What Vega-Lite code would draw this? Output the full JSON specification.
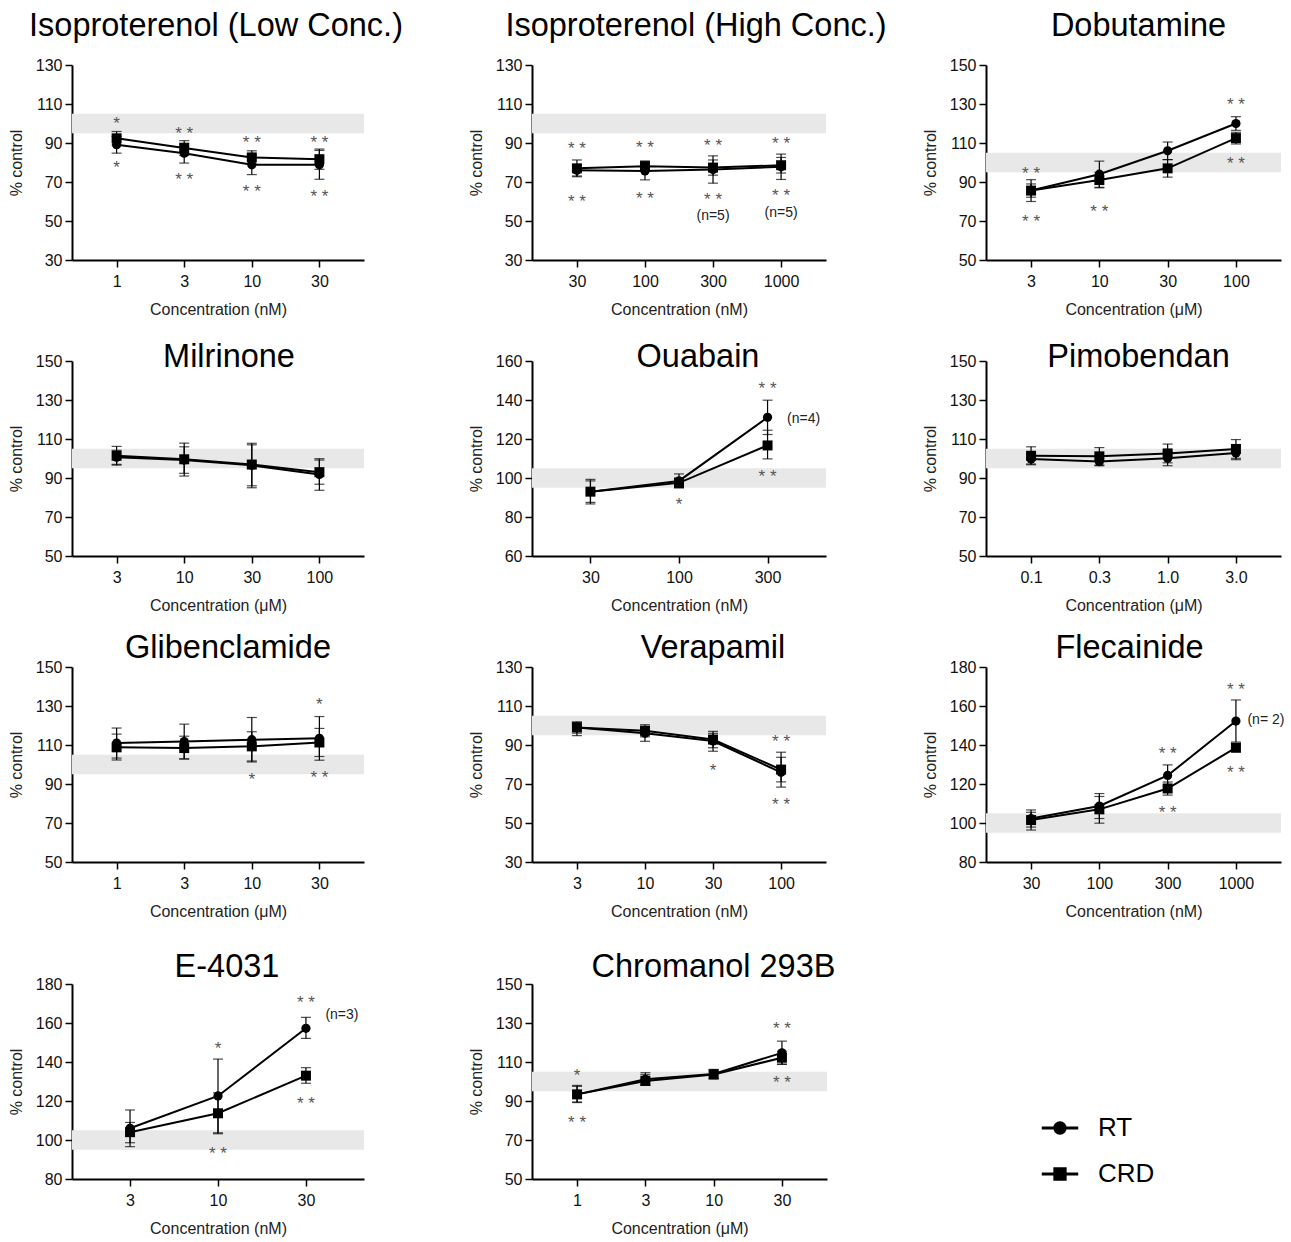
{
"$schema": "https://vega.github.io/schema/vega-lite/v6.json",
"padding": {"left": 8, "top": 9, "right": 5, "bottom": 5},
"config": {
  "font": "Liberation Sans",
  "view": {"stroke": null},
  "axis": {"grid": false, "domainColor": "black", "domainWidth": 2, "tickColor": "black", "tickWidth": 1.5, "tickSize": 7, "labelFont": "Liberation Sans", "labelColor": "#111", "titleFont": "Liberation Sans", "titleFontWeight": "normal", "titleColor": "#222"},
  "axisY": {"labelFontSize": 16, "titleFontSize": 16, "labelPadding": 3, "titlePadding": 11, "labelOverlap": false, "tickCount": 10},
  "axisX": {"labelFontSize": 16, "titleFontSize": 16, "labelAngle": 0, "labelPadding": 6, "titlePadding": 12},
  "title": {"font": "Liberation Sans", "fontSize": 32.5, "fontWeight": "normal", "color": "black", "anchor": "middle", "frame": "group", "baseline": "alphabetic"}
},
"datasets": {
  "band": [{"lo": 95, "hi": 105}],
  "leg": [{"s": "RT"}, {"s": "CRD"}],
  "p1": [
    {"c": 1, "s": "RT", "m": 89.1, "lo": 84.8, "hi": 93.4}, {"c": 1, "s": "CRD", "m": 92.4, "lo": 88.9, "hi": 95.9},
    {"c": 3, "s": "RT", "m": 84.8, "lo": 79.7, "hi": 89.9}, {"c": 3, "s": "CRD", "m": 87.4, "lo": 83.6, "hi": 91.2},
    {"c": 10, "s": "RT", "m": 78.8, "lo": 73.8, "hi": 83.8}, {"c": 10, "s": "CRD", "m": 82.6, "lo": 79.2, "hi": 86.0},
    {"c": 30, "s": "RT", "m": 78.8, "lo": 71.4, "hi": 86.2}, {"c": 30, "s": "CRD", "m": 81.7, "lo": 76.5, "hi": 86.9}],
  "a1": [{"c": 1, "y": 102.4, "t": "*"}, {"c": 1, "y": 79.5, "t": "*"}, {"c": 3, "y": 97.2, "t": "* *"}, {"c": 3, "y": 73.8, "t": "* *"}, {"c": 10, "y": 92.4, "t": "* *"}, {"c": 10, "y": 67.6, "t": "* *"}, {"c": 30, "y": 92.4, "t": "* *"}, {"c": 30, "y": 64.8, "t": "* *"}],
  "p2": [
    {"c": 30, "s": "RT", "m": 76.0, "lo": 73.1, "hi": 78.9}, {"c": 30, "s": "CRD", "m": 77.0, "lo": 72.7, "hi": 81.3},
    {"c": 100, "s": "RT", "m": 75.7, "lo": 71.1, "hi": 80.3}, {"c": 100, "s": "CRD", "m": 78.1, "lo": 75.4, "hi": 80.8},
    {"c": 300, "s": "RT", "m": 76.4, "lo": 69.4, "hi": 83.4}, {"c": 300, "s": "CRD", "m": 77.4, "lo": 73.5, "hi": 81.3},
    {"c": 1000, "s": "RT", "m": 77.8, "lo": 71.3, "hi": 84.3}, {"c": 1000, "s": "CRD", "m": 78.6, "lo": 74.6, "hi": 82.6}],
  "a2": [{"c": 30, "y": 89.4, "t": "* *"}, {"c": 100, "y": 90.1, "t": "* *"}, {"c": 300, "y": 91.1, "t": "* *"}, {"c": 1000, "y": 92.0, "t": "* *"}, {"c": 30, "y": 62.5, "t": "* *"}, {"c": 100, "y": 63.8, "t": "* *"}, {"c": 300, "y": 63.4, "t": "* *"}, {"c": 1000, "y": 65.2, "t": "* *"}],
  "n2": [{"c": 300, "y": 52.8, "t": "(n=5)"}, {"c": 1000, "y": 54.2, "t": "(n=5)"}],
  "p3": [
    {"c": 3, "s": "RT", "m": 85.6, "lo": 80.0, "hi": 91.2}, {"c": 3, "s": "CRD", "m": 85.6, "lo": 82.2, "hi": 89.0},
    {"c": 10, "s": "RT", "m": 94.0, "lo": 87.3, "hi": 100.7}, {"c": 10, "s": "CRD", "m": 91.0, "lo": 87.0, "hi": 95.0},
    {"c": 30, "s": "RT", "m": 106.0, "lo": 101.5, "hi": 110.5}, {"c": 30, "s": "CRD", "m": 97.0, "lo": 92.5, "hi": 101.5},
    {"c": 100, "s": "RT", "m": 120.0, "lo": 116.5, "hi": 123.5}, {"c": 100, "s": "CRD", "m": 112.5, "lo": 109.5, "hi": 115.5}],
  "a3": [{"c": 3, "y": 96.8, "t": "* *"}, {"c": 3, "y": 71.9, "t": "* *"}, {"c": 10, "y": 77.3, "t": "* *"}, {"c": 100, "y": 132.1, "t": "* *"}, {"c": 100, "y": 101.8, "t": "* *"}],
  "p4": [
    {"c": 3, "s": "RT", "m": 100.6, "lo": 97.0, "hi": 104.2}, {"c": 3, "s": "CRD", "m": 101.4, "lo": 96.6, "hi": 106.2},
    {"c": 10, "s": "RT", "m": 99.2, "lo": 92.4, "hi": 106.0}, {"c": 10, "s": "CRD", "m": 99.6, "lo": 91.0, "hi": 107.9},
    {"c": 30, "s": "RT", "m": 96.5, "lo": 85.0, "hi": 107.0}, {"c": 30, "s": "CRD", "m": 96.9, "lo": 86.0, "hi": 107.8},
    {"c": 100, "s": "RT", "m": 91.8, "lo": 83.7, "hi": 99.9}, {"c": 100, "s": "CRD", "m": 93.0, "lo": 86.8, "hi": 99.2}],
  "p5": [
    {"c": 30, "s": "RT", "m": 93.0, "lo": 86.7, "hi": 99.3}, {"c": 30, "s": "CRD", "m": 93.0, "lo": 87.5, "hi": 98.5},
    {"c": 100, "s": "RT", "m": 98.5, "lo": 95.0, "hi": 102.1}, {"c": 100, "s": "CRD", "m": 97.5, "lo": 95.0, "hi": 100.0},
    {"c": 300, "s": "RT", "m": 131.1, "lo": 122.3, "hi": 139.9}, {"c": 300, "s": "CRD", "m": 116.7, "lo": 109.8, "hi": 124.5}],
  "a5": [{"c": 300, "y": 148.3, "t": "* *"}, {"c": 300, "y": 103.3, "t": "* *"}, {"c": 100, "y": 88.7, "t": "*"}],
  "n5": [{"c": 300, "y": 130.5, "t": "(n=4)"}],
  "p6": [
    {"c": 0.1, "s": "RT", "m": 99.7, "lo": 97.2, "hi": 102.5}, {"c": 0.1, "s": "CRD", "m": 101.4, "lo": 96.8, "hi": 106.0},
    {"c": 0.3, "s": "RT", "m": 98.4, "lo": 96.3, "hi": 101.0}, {"c": 0.3, "s": "CRD", "m": 101.1, "lo": 96.6, "hi": 105.6},
    {"c": 1, "s": "RT", "m": 100.1, "lo": 96.3, "hi": 103.5}, {"c": 1, "s": "CRD", "m": 102.6, "lo": 97.8, "hi": 107.4},
    {"c": 3, "s": "RT", "m": 102.8, "lo": 99.4, "hi": 106.0}, {"c": 3, "s": "CRD", "m": 104.9, "lo": 100.1, "hi": 109.7}],
  "p7": [
    {"c": 1, "s": "RT", "m": 111.0, "lo": 103.3, "hi": 118.7}, {"c": 1, "s": "CRD", "m": 108.8, "lo": 102.3, "hi": 115.6},
    {"c": 3, "s": "RT", "m": 111.8, "lo": 102.9, "hi": 120.7}, {"c": 3, "s": "CRD", "m": 108.4, "lo": 102.8, "hi": 114.5},
    {"c": 10, "s": "RT", "m": 112.7, "lo": 101.3, "hi": 124.1}, {"c": 10, "s": "CRD", "m": 109.3, "lo": 101.8, "hi": 116.8},
    {"c": 30, "s": "RT", "m": 113.4, "lo": 102.2, "hi": 124.6}, {"c": 30, "s": "CRD", "m": 111.3, "lo": 104.1, "hi": 118.5}],
  "a7": [{"c": 30, "y": 133.0, "t": "*"}, {"c": 10, "y": 94.8, "t": "*"}, {"c": 30, "y": 95.7, "t": "* *"}],
  "p8": [
    {"c": 3, "s": "RT", "m": 99.0, "lo": 96.1, "hi": 101.9}, {"c": 3, "s": "CRD", "m": 99.0, "lo": 94.8, "hi": 101.5},
    {"c": 10, "s": "RT", "m": 96.0, "lo": 91.9, "hi": 99.5}, {"c": 10, "s": "CRD", "m": 97.3, "lo": 94.2, "hi": 100.4},
    {"c": 30, "s": "RT", "m": 92.0, "lo": 86.8, "hi": 96.0}, {"c": 30, "s": "CRD", "m": 92.8, "lo": 88.6, "hi": 97.0},
    {"c": 100, "s": "RT", "m": 76.0, "lo": 68.4, "hi": 86.3}, {"c": 100, "s": "CRD", "m": 77.4, "lo": 71.1, "hi": 83.7}],
  "a8": [{"c": 30, "y": 79.2, "t": "*"}, {"c": 100, "y": 94.0, "t": "* *"}, {"c": 100, "y": 61.6, "t": "* *"}],
  "p9": [
    {"c": 30, "s": "RT", "m": 102.3, "lo": 97.9, "hi": 106.7}, {"c": 30, "s": "CRD", "m": 101.5, "lo": 96.4, "hi": 105.5},
    {"c": 100, "s": "RT", "m": 108.7, "lo": 102.3, "hi": 115.1}, {"c": 100, "s": "CRD", "m": 107.0, "lo": 99.9, "hi": 113.6},
    {"c": 300, "s": "RT", "m": 124.4, "lo": 119.0, "hi": 129.8}, {"c": 300, "s": "CRD", "m": 117.7, "lo": 114.3, "hi": 121.0},
    {"c": 1000, "s": "RT", "m": 152.3, "lo": 141.5, "hi": 163.1}, {"c": 1000, "s": "CRD", "m": 138.6, "lo": 136.6, "hi": 140.6}],
  "a9": [{"c": 300, "y": 137.8, "t": "* *"}, {"c": 300, "y": 107.5, "t": "* *"}, {"c": 1000, "y": 170.9, "t": "* *"}, {"c": 1000, "y": 128.1, "t": "* *"}],
  "n9": [{"c": 1000, "y": 152.6, "t": "(n= 2)"}],
  "p10": [
    {"c": 3, "s": "RT", "m": 106.0, "lo": 96.6, "hi": 115.4}, {"c": 3, "s": "CRD", "m": 104.0, "lo": 98.6, "hi": 109.0},
    {"c": 10, "s": "RT", "m": 122.6, "lo": 103.7, "hi": 141.5}, {"c": 10, "s": "CRD", "m": 113.7, "lo": 103.2, "hi": 124.2},
    {"c": 30, "s": "RT", "m": 157.3, "lo": 152.1, "hi": 162.9}, {"c": 30, "s": "CRD", "m": 133.0, "lo": 129.1, "hi": 137.1}],
  "a10": [{"c": 10, "y": 149.1, "t": "*"}, {"c": 10, "y": 95.4, "t": "* *"}, {"c": 30, "y": 172.6, "t": "* *"}, {"c": 30, "y": 120.9, "t": "* *"}],
  "n10": [{"c": 30, "y": 164.1, "t": "(n=3)"}],
  "p11": [
    {"c": 1, "s": "RT", "m": 93.4, "lo": 89.2, "hi": 98.0}, {"c": 1, "s": "CRD", "m": 93.4, "lo": 89.5, "hi": 97.5},
    {"c": 3, "s": "RT", "m": 101.1, "lo": 98.2, "hi": 104.5}, {"c": 3, "s": "CRD", "m": 100.3, "lo": 98.2, "hi": 103.5},
    {"c": 10, "s": "RT", "m": 103.9, "lo": 101.4, "hi": 106.2}, {"c": 10, "s": "CRD", "m": 103.6, "lo": 101.6, "hi": 105.8},
    {"c": 30, "s": "RT", "m": 114.7, "lo": 108.8, "hi": 120.7}, {"c": 30, "s": "CRD", "m": 112.2, "lo": 108.9, "hi": 115.5}],
  "a11": [{"c": 1, "y": 105.4, "t": "*"}, {"c": 1, "y": 81.2, "t": "* *"}, {"c": 30, "y": 129.6, "t": "* *"}, {"c": 30, "y": 102.0, "t": "* *"}]
},
"bounds": "flush",
"spacing": 296,
"vconcat": [
 {"bounds": "flush", "spacing": 168, "hconcat": [
  {"width": 292, "height": 195, "title": {"text": "Isoproterenol (Low Conc.)", "dx": -2, "offset": 15}, "data": {"name": "p1"},
   "layer": [
    {"data": {"name": "band"}, "mark": {"type": "rect", "color": "#e8e8e8"}, "encoding": {"y": {"field": "lo", "type": "quantitative", "scale": {"domain": [30, 130], "nice": false, "zero": false}, "axis": {"values": [30, 50, 70, 90, 110, 130], "tickCount": 10, "labelOverlap": false}, "title": "% control"}, "y2": {"field": "hi"}}},
    {"encoding": {"x": {"field": "c", "type": "ordinal", "scale": {"type": "point", "padding": 0.66}, "title": "Concentration (nM)"}},
     "layer": [
      {"mark": {"type": "rule", "color": "black", "strokeWidth": 1.2}, "encoding": {"y": {"field": "lo", "type": "quantitative", "scale": {"domain": [30, 130], "nice": false, "zero": false}, "title": "% control"}, "y2": {"field": "hi"}}},
      {"mark": {"type": "tick", "color": "black", "thickness": 1.2, "size": 10}, "encoding": {"y": {"field": "lo", "type": "quantitative", "scale": {"domain": [30, 130], "nice": false, "zero": false}, "title": "% control"}}},
      {"mark": {"type": "tick", "color": "black", "thickness": 1.2, "size": 10}, "encoding": {"y": {"field": "hi", "type": "quantitative", "scale": {"domain": [30, 130], "nice": false, "zero": false}, "title": "% control"}}},
      {"mark": {"type": "line", "color": "black", "strokeWidth": 2}, "encoding": {"y": {"field": "m", "type": "quantitative", "scale": {"domain": [30, 130], "nice": false, "zero": false}, "title": "% control"}, "detail": {"field": "s", "type": "nominal"}}},
      {"transform": [{"filter": "datum.s === 'RT'"}], "mark": {"type": "point", "shape": "circle", "filled": true, "color": "black", "opacity": 1, "size": 85}, "encoding": {"y": {"field": "m", "type": "quantitative", "scale": {"domain": [30, 130], "nice": false, "zero": false}, "title": "% control"}}},
      {"transform": [{"filter": "datum.s === 'CRD'"}], "mark": {"type": "point", "shape": "square", "filled": true, "color": "black", "opacity": 1, "size": 100}, "encoding": {"y": {"field": "m", "type": "quantitative", "scale": {"domain": [30, 130], "nice": false, "zero": false}, "title": "% control"}}},
      {"data": {"name": "a1"}, "mark": {"type": "text", "color": "#555", "fontSize": 17, "baseline": "middle", "dy": 5}, "encoding": {"y": {"field": "y", "type": "quantitative", "scale": {"domain": [30, 130], "nice": false, "zero": false}, "title": "% control"}, "text": {"field": "t"}}}
     ]}
   ]},
  {"bounds": "flush", "spacing": 160, "hconcat": [
   {"width": 294, "height": 195, "title": {"text": "Isoproterenol (High Conc.)", "dx": 17, "offset": 15}, "data": {"name": "p2"},
    "layer": [
     {"data": {"name": "band"}, "mark": {"type": "rect", "color": "#e8e8e8"}, "encoding": {"y": {"field": "lo", "type": "quantitative", "scale": {"domain": [30, 130], "nice": false, "zero": false}, "axis": {"values": [30, 50, 70, 90, 110, 130], "tickCount": 10, "labelOverlap": false}, "title": "% control"}, "y2": {"field": "hi"}}},
     {"encoding": {"x": {"field": "c", "type": "ordinal", "scale": {"type": "point", "padding": 0.66}, "title": "Concentration (nM)"}},
      "layer": [
       {"mark": {"type": "rule", "color": "black", "strokeWidth": 1.2}, "encoding": {"y": {"field": "lo", "type": "quantitative", "scale": {"domain": [30, 130], "nice": false, "zero": false}, "title": "% control"}, "y2": {"field": "hi"}}},
       {"mark": {"type": "tick", "color": "black", "thickness": 1.2, "size": 10}, "encoding": {"y": {"field": "lo", "type": "quantitative", "scale": {"domain": [30, 130], "nice": false, "zero": false}, "title": "% control"}}},
       {"mark": {"type": "tick", "color": "black", "thickness": 1.2, "size": 10}, "encoding": {"y": {"field": "hi", "type": "quantitative", "scale": {"domain": [30, 130], "nice": false, "zero": false}, "title": "% control"}}},
       {"mark": {"type": "line", "color": "black", "strokeWidth": 2}, "encoding": {"y": {"field": "m", "type": "quantitative", "scale": {"domain": [30, 130], "nice": false, "zero": false}, "title": "% control"}, "detail": {"field": "s", "type": "nominal"}}},
       {"transform": [{"filter": "datum.s === 'RT'"}], "mark": {"type": "point", "shape": "circle", "filled": true, "color": "black", "opacity": 1, "size": 85}, "encoding": {"y": {"field": "m", "type": "quantitative", "scale": {"domain": [30, 130], "nice": false, "zero": false}, "title": "% control"}}},
       {"transform": [{"filter": "datum.s === 'CRD'"}], "mark": {"type": "point", "shape": "square", "filled": true, "color": "black", "opacity": 1, "size": 100}, "encoding": {"y": {"field": "m", "type": "quantitative", "scale": {"domain": [30, 130], "nice": false, "zero": false}, "title": "% control"}}},
       {"data": {"name": "a2"}, "mark": {"type": "text", "color": "#555", "fontSize": 17, "baseline": "middle", "dy": 5}, "encoding": {"y": {"field": "y", "type": "quantitative", "scale": {"domain": [30, 130], "nice": false, "zero": false}, "title": "% control"}, "text": {"field": "t"}}},
       {"data": {"name": "n2"}, "mark": {"type": "text", "color": "#222", "fontSize": 14, "baseline": "middle"}, "encoding": {"y": {"field": "y", "type": "quantitative", "scale": {"domain": [30, 130], "nice": false, "zero": false}, "title": "% control"}, "text": {"field": "t"}}}
      ]}
    ]},
   {"width": 295, "height": 195, "title": {"text": "Dobutamine", "dx": 5, "offset": 15}, "data": {"name": "p3"},
    "layer": [
     {"data": {"name": "band"}, "mark": {"type": "rect", "color": "#e8e8e8"}, "encoding": {"y": {"field": "lo", "type": "quantitative", "scale": {"domain": [50, 150], "nice": false, "zero": false}, "axis": {"values": [50, 70, 90, 110, 130, 150], "tickCount": 10, "labelOverlap": false}, "title": "% control"}, "y2": {"field": "hi"}}},
     {"encoding": {"x": {"field": "c", "type": "ordinal", "scale": {"type": "point", "padding": 0.66}, "title": "Concentration (μM)"}},
      "layer": [
       {"mark": {"type": "rule", "color": "black", "strokeWidth": 1.2}, "encoding": {"y": {"field": "lo", "type": "quantitative", "scale": {"domain": [50, 150], "nice": false, "zero": false}, "title": "% control"}, "y2": {"field": "hi"}}},
       {"mark": {"type": "tick", "color": "black", "thickness": 1.2, "size": 10}, "encoding": {"y": {"field": "lo", "type": "quantitative", "scale": {"domain": [50, 150], "nice": false, "zero": false}, "title": "% control"}}},
       {"mark": {"type": "tick", "color": "black", "thickness": 1.2, "size": 10}, "encoding": {"y": {"field": "hi", "type": "quantitative", "scale": {"domain": [50, 150], "nice": false, "zero": false}, "title": "% control"}}},
       {"mark": {"type": "line", "color": "black", "strokeWidth": 2}, "encoding": {"y": {"field": "m", "type": "quantitative", "scale": {"domain": [50, 150], "nice": false, "zero": false}, "title": "% control"}, "detail": {"field": "s", "type": "nominal"}}},
       {"transform": [{"filter": "datum.s === 'RT'"}], "mark": {"type": "point", "shape": "circle", "filled": true, "color": "black", "opacity": 1, "size": 85}, "encoding": {"y": {"field": "m", "type": "quantitative", "scale": {"domain": [50, 150], "nice": false, "zero": false}, "title": "% control"}}},
       {"transform": [{"filter": "datum.s === 'CRD'"}], "mark": {"type": "point", "shape": "square", "filled": true, "color": "black", "opacity": 1, "size": 100}, "encoding": {"y": {"field": "m", "type": "quantitative", "scale": {"domain": [50, 150], "nice": false, "zero": false}, "title": "% control"}}},
       {"data": {"name": "a3"}, "mark": {"type": "text", "color": "#555", "fontSize": 17, "baseline": "middle", "dy": 5}, "encoding": {"y": {"field": "y", "type": "quantitative", "scale": {"domain": [50, 150], "nice": false, "zero": false}, "title": "% control"}, "text": {"field": "t"}}}
      ]}
    ]}
  ]}
 ]},
 {"bounds": "flush", "spacing": 306, "vconcat": [
  {"bounds": "flush", "spacing": 168, "hconcat": [
   {"width": 292, "height": 195, "title": {"text": "Milrinone", "dx": 11, "offset": -20}, "data": {"name": "p4"},
    "layer": [
     {"data": {"name": "band"}, "mark": {"type": "rect", "color": "#e8e8e8"}, "encoding": {"y": {"field": "lo", "type": "quantitative", "scale": {"domain": [50, 150], "nice": false, "zero": false}, "axis": {"values": [50, 70, 90, 110, 130, 150], "tickCount": 10, "labelOverlap": false}, "title": "% control"}, "y2": {"field": "hi"}}},
     {"encoding": {"x": {"field": "c", "type": "ordinal", "scale": {"type": "point", "padding": 0.66}, "title": "Concentration (μM)"}},
      "layer": [
       {"mark": {"type": "rule", "color": "black", "strokeWidth": 1.2}, "encoding": {"y": {"field": "lo", "type": "quantitative", "scale": {"domain": [50, 150], "nice": false, "zero": false}, "title": "% control"}, "y2": {"field": "hi"}}},
       {"mark": {"type": "tick", "color": "black", "thickness": 1.2, "size": 10}, "encoding": {"y": {"field": "lo", "type": "quantitative", "scale": {"domain": [50, 150], "nice": false, "zero": false}, "title": "% control"}}},
       {"mark": {"type": "tick", "color": "black", "thickness": 1.2, "size": 10}, "encoding": {"y": {"field": "hi", "type": "quantitative", "scale": {"domain": [50, 150], "nice": false, "zero": false}, "title": "% control"}}},
       {"mark": {"type": "line", "color": "black", "strokeWidth": 2}, "encoding": {"y": {"field": "m", "type": "quantitative", "scale": {"domain": [50, 150], "nice": false, "zero": false}, "title": "% control"}, "detail": {"field": "s", "type": "nominal"}}},
       {"transform": [{"filter": "datum.s === 'RT'"}], "mark": {"type": "point", "shape": "circle", "filled": true, "color": "black", "opacity": 1, "size": 85}, "encoding": {"y": {"field": "m", "type": "quantitative", "scale": {"domain": [50, 150], "nice": false, "zero": false}, "title": "% control"}}},
       {"transform": [{"filter": "datum.s === 'CRD'"}], "mark": {"type": "point", "shape": "square", "filled": true, "color": "black", "opacity": 1, "size": 100}, "encoding": {"y": {"field": "m", "type": "quantitative", "scale": {"domain": [50, 150], "nice": false, "zero": false}, "title": "% control"}}}
      ]}
    ]},
   {"bounds": "flush", "spacing": 160, "hconcat": [
    {"width": 294, "height": 195, "title": {"text": "Ouabain", "dx": 19, "offset": -20}, "data": {"name": "p5"},
     "layer": [
      {"data": {"name": "band"}, "mark": {"type": "rect", "color": "#e8e8e8"}, "encoding": {"y": {"field": "lo", "type": "quantitative", "scale": {"domain": [60, 160], "nice": false, "zero": false}, "axis": {"values": [60, 80, 100, 120, 140, 160], "tickCount": 10, "labelOverlap": false}, "title": "% control"}, "y2": {"field": "hi"}}},
      {"encoding": {"x": {"field": "c", "type": "ordinal", "scale": {"type": "point", "padding": 0.66}, "title": "Concentration (nM)"}},
       "layer": [
        {"mark": {"type": "rule", "color": "black", "strokeWidth": 1.2}, "encoding": {"y": {"field": "lo", "type": "quantitative", "scale": {"domain": [60, 160], "nice": false, "zero": false}, "title": "% control"}, "y2": {"field": "hi"}}},
        {"mark": {"type": "tick", "color": "black", "thickness": 1.2, "size": 10}, "encoding": {"y": {"field": "lo", "type": "quantitative", "scale": {"domain": [60, 160], "nice": false, "zero": false}, "title": "% control"}}},
        {"mark": {"type": "tick", "color": "black", "thickness": 1.2, "size": 10}, "encoding": {"y": {"field": "hi", "type": "quantitative", "scale": {"domain": [60, 160], "nice": false, "zero": false}, "title": "% control"}}},
        {"mark": {"type": "line", "color": "black", "strokeWidth": 2}, "encoding": {"y": {"field": "m", "type": "quantitative", "scale": {"domain": [60, 160], "nice": false, "zero": false}, "title": "% control"}, "detail": {"field": "s", "type": "nominal"}}},
        {"transform": [{"filter": "datum.s === 'RT'"}], "mark": {"type": "point", "shape": "circle", "filled": true, "color": "black", "opacity": 1, "size": 85}, "encoding": {"y": {"field": "m", "type": "quantitative", "scale": {"domain": [60, 160], "nice": false, "zero": false}, "title": "% control"}}},
        {"transform": [{"filter": "datum.s === 'CRD'"}], "mark": {"type": "point", "shape": "square", "filled": true, "color": "black", "opacity": 1, "size": 100}, "encoding": {"y": {"field": "m", "type": "quantitative", "scale": {"domain": [60, 160], "nice": false, "zero": false}, "title": "% control"}}},
        {"data": {"name": "a5"}, "mark": {"type": "text", "color": "#555", "fontSize": 17, "baseline": "middle", "dy": 5}, "encoding": {"y": {"field": "y", "type": "quantitative", "scale": {"domain": [60, 160], "nice": false, "zero": false}, "title": "% control"}, "text": {"field": "t"}}},
        {"data": {"name": "n5"}, "mark": {"type": "text", "color": "#222", "fontSize": 14, "baseline": "middle", "dx": 36}, "encoding": {"y": {"field": "y", "type": "quantitative", "scale": {"domain": [60, 160], "nice": false, "zero": false}, "title": "% control"}, "text": {"field": "t"}}}
       ]}
     ]},
    {"width": 295, "height": 195, "title": {"text": "Pimobendan", "dx": 5, "offset": -20}, "data": {"name": "p6"},
     "layer": [
      {"data": {"name": "band"}, "mark": {"type": "rect", "color": "#e8e8e8"}, "encoding": {"y": {"field": "lo", "type": "quantitative", "scale": {"domain": [50, 150], "nice": false, "zero": false}, "axis": {"values": [50, 70, 90, 110, 130, 150], "tickCount": 10, "labelOverlap": false}, "title": "% control"}, "y2": {"field": "hi"}}},
      {"encoding": {"x": {"field": "c", "type": "ordinal", "scale": {"type": "point", "padding": 0.66}, "axis": {"labelExpr": "format(datum.value, '.1f')"}, "title": "Concentration (μM)"}},
       "layer": [
        {"mark": {"type": "rule", "color": "black", "strokeWidth": 1.2}, "encoding": {"y": {"field": "lo", "type": "quantitative", "scale": {"domain": [50, 150], "nice": false, "zero": false}, "title": "% control"}, "y2": {"field": "hi"}}},
        {"mark": {"type": "tick", "color": "black", "thickness": 1.2, "size": 10}, "encoding": {"y": {"field": "lo", "type": "quantitative", "scale": {"domain": [50, 150], "nice": false, "zero": false}, "title": "% control"}}},
        {"mark": {"type": "tick", "color": "black", "thickness": 1.2, "size": 10}, "encoding": {"y": {"field": "hi", "type": "quantitative", "scale": {"domain": [50, 150], "nice": false, "zero": false}, "title": "% control"}}},
        {"mark": {"type": "line", "color": "black", "strokeWidth": 2}, "encoding": {"y": {"field": "m", "type": "quantitative", "scale": {"domain": [50, 150], "nice": false, "zero": false}, "title": "% control"}, "detail": {"field": "s", "type": "nominal"}}},
        {"transform": [{"filter": "datum.s === 'RT'"}], "mark": {"type": "point", "shape": "circle", "filled": true, "color": "black", "opacity": 1, "size": 85}, "encoding": {"y": {"field": "m", "type": "quantitative", "scale": {"domain": [50, 150], "nice": false, "zero": false}, "title": "% control"}}},
        {"transform": [{"filter": "datum.s === 'CRD'"}], "mark": {"type": "point", "shape": "square", "filled": true, "color": "black", "opacity": 1, "size": 100}, "encoding": {"y": {"field": "m", "type": "quantitative", "scale": {"domain": [50, 150], "nice": false, "zero": false}, "title": "% control"}}}
       ]}
     ]}
   ]}
  ]},
  {"bounds": "flush", "spacing": 317, "vconcat": [
   {"bounds": "flush", "spacing": 168, "hconcat": [
    {"width": 292, "height": 195, "title": {"text": "Glibenclamide", "dx": 10, "offset": -5}, "data": {"name": "p7"},
     "layer": [
      {"data": {"name": "band"}, "mark": {"type": "rect", "color": "#e8e8e8"}, "encoding": {"y": {"field": "lo", "type": "quantitative", "scale": {"domain": [50, 150], "nice": false, "zero": false}, "axis": {"values": [50, 70, 90, 110, 130, 150], "tickCount": 10, "labelOverlap": false}, "title": "% control"}, "y2": {"field": "hi"}}},
      {"encoding": {"x": {"field": "c", "type": "ordinal", "scale": {"type": "point", "padding": 0.66}, "title": "Concentration (μM)"}},
       "layer": [
        {"mark": {"type": "rule", "color": "black", "strokeWidth": 1.2}, "encoding": {"y": {"field": "lo", "type": "quantitative", "scale": {"domain": [50, 150], "nice": false, "zero": false}, "title": "% control"}, "y2": {"field": "hi"}}},
        {"mark": {"type": "tick", "color": "black", "thickness": 1.2, "size": 10}, "encoding": {"y": {"field": "lo", "type": "quantitative", "scale": {"domain": [50, 150], "nice": false, "zero": false}, "title": "% control"}}},
        {"mark": {"type": "tick", "color": "black", "thickness": 1.2, "size": 10}, "encoding": {"y": {"field": "hi", "type": "quantitative", "scale": {"domain": [50, 150], "nice": false, "zero": false}, "title": "% control"}}},
        {"mark": {"type": "line", "color": "black", "strokeWidth": 2}, "encoding": {"y": {"field": "m", "type": "quantitative", "scale": {"domain": [50, 150], "nice": false, "zero": false}, "title": "% control"}, "detail": {"field": "s", "type": "nominal"}}},
        {"transform": [{"filter": "datum.s === 'RT'"}], "mark": {"type": "point", "shape": "circle", "filled": true, "color": "black", "opacity": 1, "size": 85}, "encoding": {"y": {"field": "m", "type": "quantitative", "scale": {"domain": [50, 150], "nice": false, "zero": false}, "title": "% control"}}},
        {"transform": [{"filter": "datum.s === 'CRD'"}], "mark": {"type": "point", "shape": "square", "filled": true, "color": "black", "opacity": 1, "size": 100}, "encoding": {"y": {"field": "m", "type": "quantitative", "scale": {"domain": [50, 150], "nice": false, "zero": false}, "title": "% control"}}},
        {"data": {"name": "a7"}, "mark": {"type": "text", "color": "#555", "fontSize": 17, "baseline": "middle", "dy": 5}, "encoding": {"y": {"field": "y", "type": "quantitative", "scale": {"domain": [50, 150], "nice": false, "zero": false}, "title": "% control"}, "text": {"field": "t"}}}
       ]}
     ]},
    {"bounds": "flush", "spacing": 160, "hconcat": [
     {"width": 294, "height": 195, "title": {"text": "Verapamil", "dx": 34, "offset": -5}, "data": {"name": "p8"},
      "layer": [
       {"data": {"name": "band"}, "mark": {"type": "rect", "color": "#e8e8e8"}, "encoding": {"y": {"field": "lo", "type": "quantitative", "scale": {"domain": [30, 130], "nice": false, "zero": false}, "axis": {"values": [30, 50, 70, 90, 110, 130], "tickCount": 10, "labelOverlap": false}, "title": "% control"}, "y2": {"field": "hi"}}},
       {"encoding": {"x": {"field": "c", "type": "ordinal", "scale": {"type": "point", "padding": 0.66}, "title": "Concentration (nM)"}},
        "layer": [
         {"mark": {"type": "rule", "color": "black", "strokeWidth": 1.2}, "encoding": {"y": {"field": "lo", "type": "quantitative", "scale": {"domain": [30, 130], "nice": false, "zero": false}, "title": "% control"}, "y2": {"field": "hi"}}},
         {"mark": {"type": "tick", "color": "black", "thickness": 1.2, "size": 10}, "encoding": {"y": {"field": "lo", "type": "quantitative", "scale": {"domain": [30, 130], "nice": false, "zero": false}, "title": "% control"}}},
         {"mark": {"type": "tick", "color": "black", "thickness": 1.2, "size": 10}, "encoding": {"y": {"field": "hi", "type": "quantitative", "scale": {"domain": [30, 130], "nice": false, "zero": false}, "title": "% control"}}},
         {"mark": {"type": "line", "color": "black", "strokeWidth": 2}, "encoding": {"y": {"field": "m", "type": "quantitative", "scale": {"domain": [30, 130], "nice": false, "zero": false}, "title": "% control"}, "detail": {"field": "s", "type": "nominal"}}},
         {"transform": [{"filter": "datum.s === 'RT'"}], "mark": {"type": "point", "shape": "circle", "filled": true, "color": "black", "opacity": 1, "size": 85}, "encoding": {"y": {"field": "m", "type": "quantitative", "scale": {"domain": [30, 130], "nice": false, "zero": false}, "title": "% control"}}},
         {"transform": [{"filter": "datum.s === 'CRD'"}], "mark": {"type": "point", "shape": "square", "filled": true, "color": "black", "opacity": 1, "size": 100}, "encoding": {"y": {"field": "m", "type": "quantitative", "scale": {"domain": [30, 130], "nice": false, "zero": false}, "title": "% control"}}},
         {"data": {"name": "a8"}, "mark": {"type": "text", "color": "#555", "fontSize": 17, "baseline": "middle", "dy": 5}, "encoding": {"y": {"field": "y", "type": "quantitative", "scale": {"domain": [30, 130], "nice": false, "zero": false}, "title": "% control"}, "text": {"field": "t"}}}
        ]}
      ]},
     {"width": 295, "height": 195, "title": {"text": "Flecainide", "dx": -4, "offset": -5}, "data": {"name": "p9"},
      "layer": [
       {"data": {"name": "band"}, "mark": {"type": "rect", "color": "#e8e8e8"}, "encoding": {"y": {"field": "lo", "type": "quantitative", "scale": {"domain": [80, 180], "nice": false, "zero": false}, "axis": {"values": [80, 100, 120, 140, 160, 180], "tickCount": 10, "labelOverlap": false}, "title": "% control"}, "y2": {"field": "hi"}}},
       {"encoding": {"x": {"field": "c", "type": "ordinal", "scale": {"type": "point", "padding": 0.66}, "title": "Concentration (nM)"}},
        "layer": [
         {"mark": {"type": "rule", "color": "black", "strokeWidth": 1.2}, "encoding": {"y": {"field": "lo", "type": "quantitative", "scale": {"domain": [80, 180], "nice": false, "zero": false}, "title": "% control"}, "y2": {"field": "hi"}}},
         {"mark": {"type": "tick", "color": "black", "thickness": 1.2, "size": 10}, "encoding": {"y": {"field": "lo", "type": "quantitative", "scale": {"domain": [80, 180], "nice": false, "zero": false}, "title": "% control"}}},
         {"mark": {"type": "tick", "color": "black", "thickness": 1.2, "size": 10}, "encoding": {"y": {"field": "hi", "type": "quantitative", "scale": {"domain": [80, 180], "nice": false, "zero": false}, "title": "% control"}}},
         {"mark": {"type": "line", "color": "black", "strokeWidth": 2}, "encoding": {"y": {"field": "m", "type": "quantitative", "scale": {"domain": [80, 180], "nice": false, "zero": false}, "title": "% control"}, "detail": {"field": "s", "type": "nominal"}}},
         {"transform": [{"filter": "datum.s === 'RT'"}], "mark": {"type": "point", "shape": "circle", "filled": true, "color": "black", "opacity": 1, "size": 85}, "encoding": {"y": {"field": "m", "type": "quantitative", "scale": {"domain": [80, 180], "nice": false, "zero": false}, "title": "% control"}}},
         {"transform": [{"filter": "datum.s === 'CRD'"}], "mark": {"type": "point", "shape": "square", "filled": true, "color": "black", "opacity": 1, "size": 100}, "encoding": {"y": {"field": "m", "type": "quantitative", "scale": {"domain": [80, 180], "nice": false, "zero": false}, "title": "% control"}}},
         {"data": {"name": "a9"}, "mark": {"type": "text", "color": "#555", "fontSize": 17, "baseline": "middle", "dy": 5}, "encoding": {"y": {"field": "y", "type": "quantitative", "scale": {"domain": [80, 180], "nice": false, "zero": false}, "title": "% control"}, "text": {"field": "t"}}},
         {"data": {"name": "n9"}, "mark": {"type": "text", "color": "#222", "fontSize": 14, "baseline": "middle", "dx": 30}, "encoding": {"y": {"field": "y", "type": "quantitative", "scale": {"domain": [80, 180], "nice": false, "zero": false}, "title": "% control"}, "text": {"field": "t"}}}
        ]}
      ]}
    ]}
   ]},
   {"bounds": "flush", "spacing": 168, "hconcat": [
    {"width": 292, "height": 195, "title": {"text": "E-4031", "dx": 9, "offset": -7}, "data": {"name": "p10"},
     "layer": [
      {"data": {"name": "band"}, "mark": {"type": "rect", "color": "#e8e8e8"}, "encoding": {"y": {"field": "lo", "type": "quantitative", "scale": {"domain": [80, 180], "nice": false, "zero": false}, "axis": {"values": [80, 100, 120, 140, 160, 180], "tickCount": 10, "labelOverlap": false}, "title": "% control"}, "y2": {"field": "hi"}}},
      {"encoding": {"x": {"field": "c", "type": "ordinal", "scale": {"type": "point", "padding": 0.66}, "title": "Concentration (nM)"}},
       "layer": [
        {"mark": {"type": "rule", "color": "black", "strokeWidth": 1.2}, "encoding": {"y": {"field": "lo", "type": "quantitative", "scale": {"domain": [80, 180], "nice": false, "zero": false}, "title": "% control"}, "y2": {"field": "hi"}}},
        {"mark": {"type": "tick", "color": "black", "thickness": 1.2, "size": 10}, "encoding": {"y": {"field": "lo", "type": "quantitative", "scale": {"domain": [80, 180], "nice": false, "zero": false}, "title": "% control"}}},
        {"mark": {"type": "tick", "color": "black", "thickness": 1.2, "size": 10}, "encoding": {"y": {"field": "hi", "type": "quantitative", "scale": {"domain": [80, 180], "nice": false, "zero": false}, "title": "% control"}}},
        {"mark": {"type": "line", "color": "black", "strokeWidth": 2}, "encoding": {"y": {"field": "m", "type": "quantitative", "scale": {"domain": [80, 180], "nice": false, "zero": false}, "title": "% control"}, "detail": {"field": "s", "type": "nominal"}}},
        {"transform": [{"filter": "datum.s === 'RT'"}], "mark": {"type": "point", "shape": "circle", "filled": true, "color": "black", "opacity": 1, "size": 85}, "encoding": {"y": {"field": "m", "type": "quantitative", "scale": {"domain": [80, 180], "nice": false, "zero": false}, "title": "% control"}}},
        {"transform": [{"filter": "datum.s === 'CRD'"}], "mark": {"type": "point", "shape": "square", "filled": true, "color": "black", "opacity": 1, "size": 100}, "encoding": {"y": {"field": "m", "type": "quantitative", "scale": {"domain": [80, 180], "nice": false, "zero": false}, "title": "% control"}}},
        {"data": {"name": "a10"}, "mark": {"type": "text", "color": "#555", "fontSize": 17, "baseline": "middle", "dy": 5}, "encoding": {"y": {"field": "y", "type": "quantitative", "scale": {"domain": [80, 180], "nice": false, "zero": false}, "title": "% control"}, "text": {"field": "t"}}},
        {"data": {"name": "n10"}, "mark": {"type": "text", "color": "#222", "fontSize": 14, "baseline": "middle", "dx": 36}, "encoding": {"y": {"field": "y", "type": "quantitative", "scale": {"domain": [80, 180], "nice": false, "zero": false}, "title": "% control"}, "text": {"field": "t"}}}
       ]}
     ]},
    {"width": 295, "height": 195, "title": {"text": "Chromanol 293B", "dx": 34, "offset": -7}, "data": {"name": "p11"},
     "layer": [
      {"data": {"name": "band"}, "mark": {"type": "rect", "color": "#e8e8e8"}, "encoding": {"y": {"field": "lo", "type": "quantitative", "scale": {"domain": [50, 150], "nice": false, "zero": false}, "axis": {"values": [50, 70, 90, 110, 130, 150], "tickCount": 10, "labelOverlap": false}, "title": "% control"}, "y2": {"field": "hi"}}},
      {"data": {"name": "leg"}, "mark": {"type": "point", "filled": true, "color": "black", "opacity": 0, "size": 196},
       "encoding": {"shape": {"field": "s", "type": "nominal", "scale": {"domain": ["RT", "CRD"], "range": ["M-2.6,-0.22H2.6V0.22H-2.6Z M-0.95,0A0.95,0.95,0,1,1,0.95,0A0.95,0.95,0,1,1,-0.95,0Z", "M-2.6,-0.22H2.6V0.22H-2.6Z M-0.95,-0.95H0.95V0.95H-0.95Z"]},
        "legend": {"orient": "none", "legendX": 975, "legendY": 1050, "title": null, "symbolOpacity": 1, "symbolSize": 196, "symbolFillColor": "black", "symbolStrokeWidth": 0, "labelFont": "Liberation Sans", "labelFontSize": 26, "labelColor": "black", "labelOffset": 25, "rowPadding": 20, "padding": 0}}}},
      {"encoding": {"x": {"field": "c", "type": "ordinal", "scale": {"type": "point", "padding": 0.66}, "title": "Concentration (μM)"}},
       "layer": [
        {"mark": {"type": "rule", "color": "black", "strokeWidth": 1.2}, "encoding": {"y": {"field": "lo", "type": "quantitative", "scale": {"domain": [50, 150], "nice": false, "zero": false}, "title": "% control"}, "y2": {"field": "hi"}}},
        {"mark": {"type": "tick", "color": "black", "thickness": 1.2, "size": 10}, "encoding": {"y": {"field": "lo", "type": "quantitative", "scale": {"domain": [50, 150], "nice": false, "zero": false}, "title": "% control"}}},
        {"mark": {"type": "tick", "color": "black", "thickness": 1.2, "size": 10}, "encoding": {"y": {"field": "hi", "type": "quantitative", "scale": {"domain": [50, 150], "nice": false, "zero": false}, "title": "% control"}}},
        {"mark": {"type": "line", "color": "black", "strokeWidth": 2}, "encoding": {"y": {"field": "m", "type": "quantitative", "scale": {"domain": [50, 150], "nice": false, "zero": false}, "title": "% control"}, "detail": {"field": "s", "type": "nominal"}}},
        {"transform": [{"filter": "datum.s === 'RT'"}], "mark": {"type": "point", "shape": "circle", "filled": true, "color": "black", "opacity": 1, "size": 85}, "encoding": {"y": {"field": "m", "type": "quantitative", "scale": {"domain": [50, 150], "nice": false, "zero": false}, "title": "% control"}}},
        {"transform": [{"filter": "datum.s === 'CRD'"}], "mark": {"type": "point", "shape": "square", "filled": true, "color": "black", "opacity": 1, "size": 100}, "encoding": {"y": {"field": "m", "type": "quantitative", "scale": {"domain": [50, 150], "nice": false, "zero": false}, "title": "% control"}}},
        {"data": {"name": "a11"}, "mark": {"type": "text", "color": "#555", "fontSize": 17, "baseline": "middle", "dy": 5}, "encoding": {"y": {"field": "y", "type": "quantitative", "scale": {"domain": [50, 150], "nice": false, "zero": false}, "title": "% control"}, "text": {"field": "t"}}}
       ]}
     ]}
   ]}
  ]}
 ]}
]
}
